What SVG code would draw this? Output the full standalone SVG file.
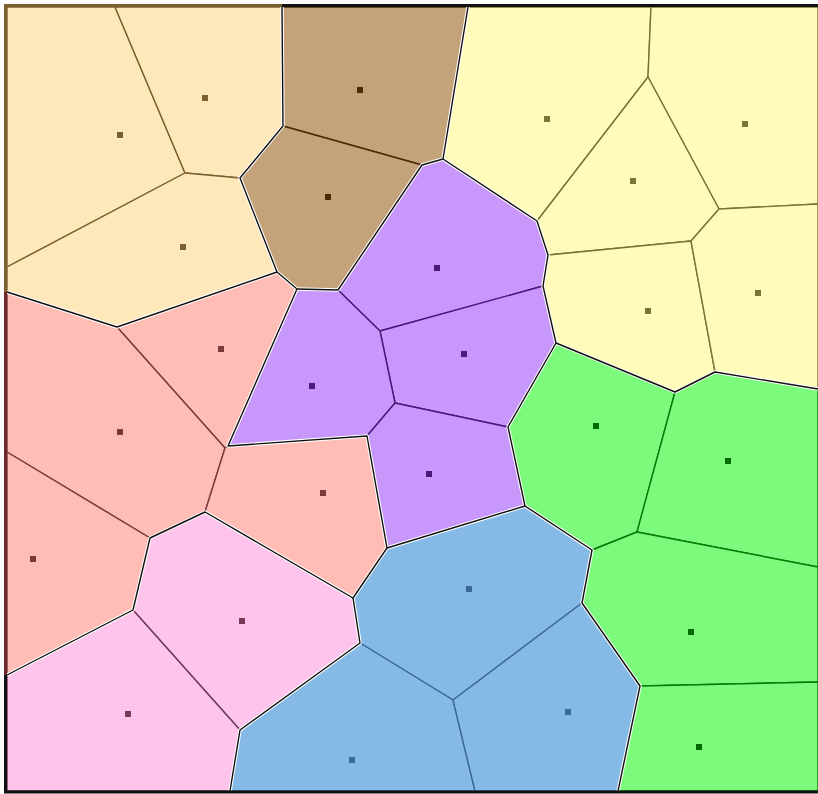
<svg xmlns="http://www.w3.org/2000/svg" width="818" height="794" viewBox="0 0 818 794">
<style>
.cell{stroke-width:1.4;stroke-linejoin:round}
.beige{fill:#FEE8BA;stroke:#7A6030}
.brown{fill:#C4A27A;stroke:#4A2C08}
.yellow{fill:#FFFBBB;stroke:#7A7430}
.purple{fill:#C897FC;stroke:#4A1A7A}
.salmon{fill:#FFBDB5;stroke:#7A3A3A}
.pink{fill:#FEC4EC;stroke:#6A3A5A}
.blue{fill:#85BAE6;stroke:#3A6A9A}
.green{fill:#7CFA7C;stroke:#087A08}
.halo{fill:none;stroke:#FFFFFF;stroke-width:3.5;stroke-linejoin:round}
.bnd{fill:none;stroke:#111111;stroke-width:1.4;stroke-linejoin:round}
.d-beige{fill:#7A6030}.d-brown{fill:#4A2800}.d-yellow{fill:#7A7530}.d-purple{fill:#4A1A7A}
.d-salmon{fill:#7A3A3A}.d-pink{fill:#7A3A5A}.d-blue{fill:#3A6A9A}.d-green{fill:#006A00}
</style>
<rect width="818" height="794" fill="#FFFFFF"/>
<g id="cells">
<g id="beige1"><polygon class="cell beige" points="7,7 115,7 185,173 7,267"/><rect class="d-beige" x="117" y="132" width="6" height="6"/></g>
<g id="beige2"><polygon class="cell beige" points="115,7 282,7 283,126 240,178 185,173"/><rect class="d-beige" x="202" y="95" width="6" height="6"/></g>
<g id="beige3"><polygon class="cell beige" points="7,267 185,173 240,178 277,272 117,327 7,292"/><rect class="d-beige" x="180" y="244" width="6" height="6"/></g>
<g id="brown1"><polygon class="cell brown" points="282,7 468,7 443,159 422,165 283,126"/><rect class="d-brown" x="357" y="87" width="6" height="6"/></g>
<g id="brown2"><polygon class="cell brown" points="283,126 422,165 338,290 297,289 277,272 240,178"/><rect class="d-brown" x="325" y="194" width="6" height="6"/></g>
<g id="yellow1"><polygon class="cell yellow" points="468,7 651,7 648,77 537,221 443,159"/><rect class="d-yellow" x="544" y="116" width="6" height="6"/></g>
<g id="yellow2"><polygon class="cell yellow" points="651,7 818,7 818,204 719,209 648,77"/><rect class="d-yellow" x="742" y="121" width="6" height="6"/></g>
<g id="yellow3"><polygon class="cell yellow" points="648,77 719,209 691,241 548,255 537,221"/><rect class="d-yellow" x="630" y="178" width="6" height="6"/></g>
<g id="yellow4"><polygon class="cell yellow" points="548,255 691,241 715,372 675,392 556,343 543,286"/><rect class="d-yellow" x="645" y="308" width="6" height="6"/></g>
<g id="yellow5"><polygon class="cell yellow" points="719,209 818,204 818,389 715,372 691,241"/><rect class="d-yellow" x="755" y="290" width="6" height="6"/></g>
<g id="purple1"><polygon class="cell purple" points="422,165 443,159 537,221 548,255 543,286 380,331 338,290"/><rect class="d-purple" x="434" y="265" width="6" height="6"/></g>
<g id="purple2"><polygon class="cell purple" points="380,331 543,286 556,343 508,427 395,403"/><rect class="d-purple" x="461" y="351" width="6" height="6"/></g>
<g id="purple3"><polygon class="cell purple" points="297,289 338,290 380,331 395,403 367,436 228,446"/><rect class="d-purple" x="309" y="383" width="6" height="6"/></g>
<g id="purple4"><polygon class="cell purple" points="395,403 508,427 525,506 387,548 367,436"/><rect class="d-purple" x="426" y="471" width="6" height="6"/></g>
<g id="salmon1"><polygon class="cell salmon" points="117,327 277,272 297,289 228,446 225,448"/><rect class="d-salmon" x="218" y="346" width="6" height="6"/></g>
<g id="salmon2"><polygon class="cell salmon" points="7,292 117,327 225,448 205,512 150,538 7,452"/><rect class="d-salmon" x="117" y="429" width="6" height="6"/></g>
<g id="salmon3"><polygon class="cell salmon" points="7,452 150,538 133,610 7,675"/><rect class="d-salmon" x="30" y="556" width="6" height="6"/></g>
<g id="salmon4"><polygon class="cell salmon" points="225,448 228,446 367,436 387,548 353,598 205,512"/><rect class="d-salmon" x="320" y="490" width="6" height="6"/></g>
<g id="pink1"><polygon class="cell pink" points="150,538 205,512 353,598 360,643 240,730 133,610"/><rect class="d-pink" x="239" y="618" width="6" height="6"/></g>
<g id="pink2"><polygon class="cell pink" points="7,675 133,610 240,730 230,791 7,791"/><rect class="d-pink" x="125" y="711" width="6" height="6"/></g>
<g id="blue1"><polygon class="cell blue" points="387,548 525,506 592,550 582,603 453,700 360,643 353,598"/><rect class="d-blue" x="466" y="586" width="6" height="6"/></g>
<g id="blue2"><polygon class="cell blue" points="360,643 453,700 475,791 230,791 240,730"/><rect class="d-blue" x="349" y="757" width="6" height="6"/></g>
<g id="blue3"><polygon class="cell blue" points="453,700 582,603 640,686 618,791 475,791"/><rect class="d-blue" x="565" y="709" width="6" height="6"/></g>
<g id="green1"><polygon class="cell green" points="556,343 675,392 637,532 592,550 525,506 508,427"/><rect class="d-green" x="593" y="423" width="6" height="6"/></g>
<g id="green2"><polygon class="cell green" points="675,392 715,372 818,389 818,567 637,532"/><rect class="d-green" x="725" y="458" width="6" height="6"/></g>
<g id="green3"><polygon class="cell green" points="592,550 637,532 818,567 818,682 640,686 582,603"/><rect class="d-green" x="688" y="629" width="6" height="6"/></g>
<g id="green4"><polygon class="cell green" points="640,686 818,682 818,791 618,791"/><rect class="d-green" x="696" y="744" width="6" height="6"/></g>
</g>
<g id="connectors">
<g id="halos" class="halo">
<polyline points="282,7 283,126 240,178 277,272"/>
<polyline points="7,292 117,327 277,272 297,289"/>
<polyline points="468,7 443,159 422,165 338,290 297,289"/>
<polyline points="443,159 537,221 548,255 543,286 556,343 508,427 525,506"/>
<polyline points="297,289 228,446 367,436 387,548"/>
<polyline points="556,343 675,392 715,372 818,389"/>
<polyline points="7,675 133,610 150,538 205,512 353,598 387,548 525,506 592,550 582,603 640,686 618,791"/>
<polyline points="353,598 360,643 240,730 230,791"/>
</g>
<g id="boundaries" class="bnd">
<polyline points="282,7 283,126 240,178 277,272"/>
<polyline points="7,292 117,327 277,272 297,289"/>
<polyline points="468,7 443,159 422,165 338,290 297,289"/>
<polyline points="443,159 537,221 548,255 543,286 556,343 508,427 525,506"/>
<polyline points="297,289 228,446 367,436 387,548"/>
<polyline points="556,343 675,392 715,372 818,389"/>
<polyline points="7,675 133,610 150,538 205,512 353,598 387,548 525,506 592,550 582,603 640,686 618,791"/>
<polyline points="353,598 360,643 240,730 230,791"/>
</g>
</g>
<g id="frame" fill="none" stroke-width="3">
<line x1="4" y1="5.5" x2="282" y2="5.5" stroke="#7A6030"/>
<line x1="282" y1="5.5" x2="818" y2="5.5" stroke="#111111"/>
<line x1="5.5" y1="4" x2="5.5" y2="292" stroke="#7A6030"/>
<line x1="5.5" y1="292" x2="5.5" y2="675" stroke="#6A2A2A"/>
<line x1="5.5" y1="675" x2="5.5" y2="793" stroke="#111111"/>
<line x1="4" y1="792" x2="818" y2="792" stroke="#111111"/>
</g>
</svg>
